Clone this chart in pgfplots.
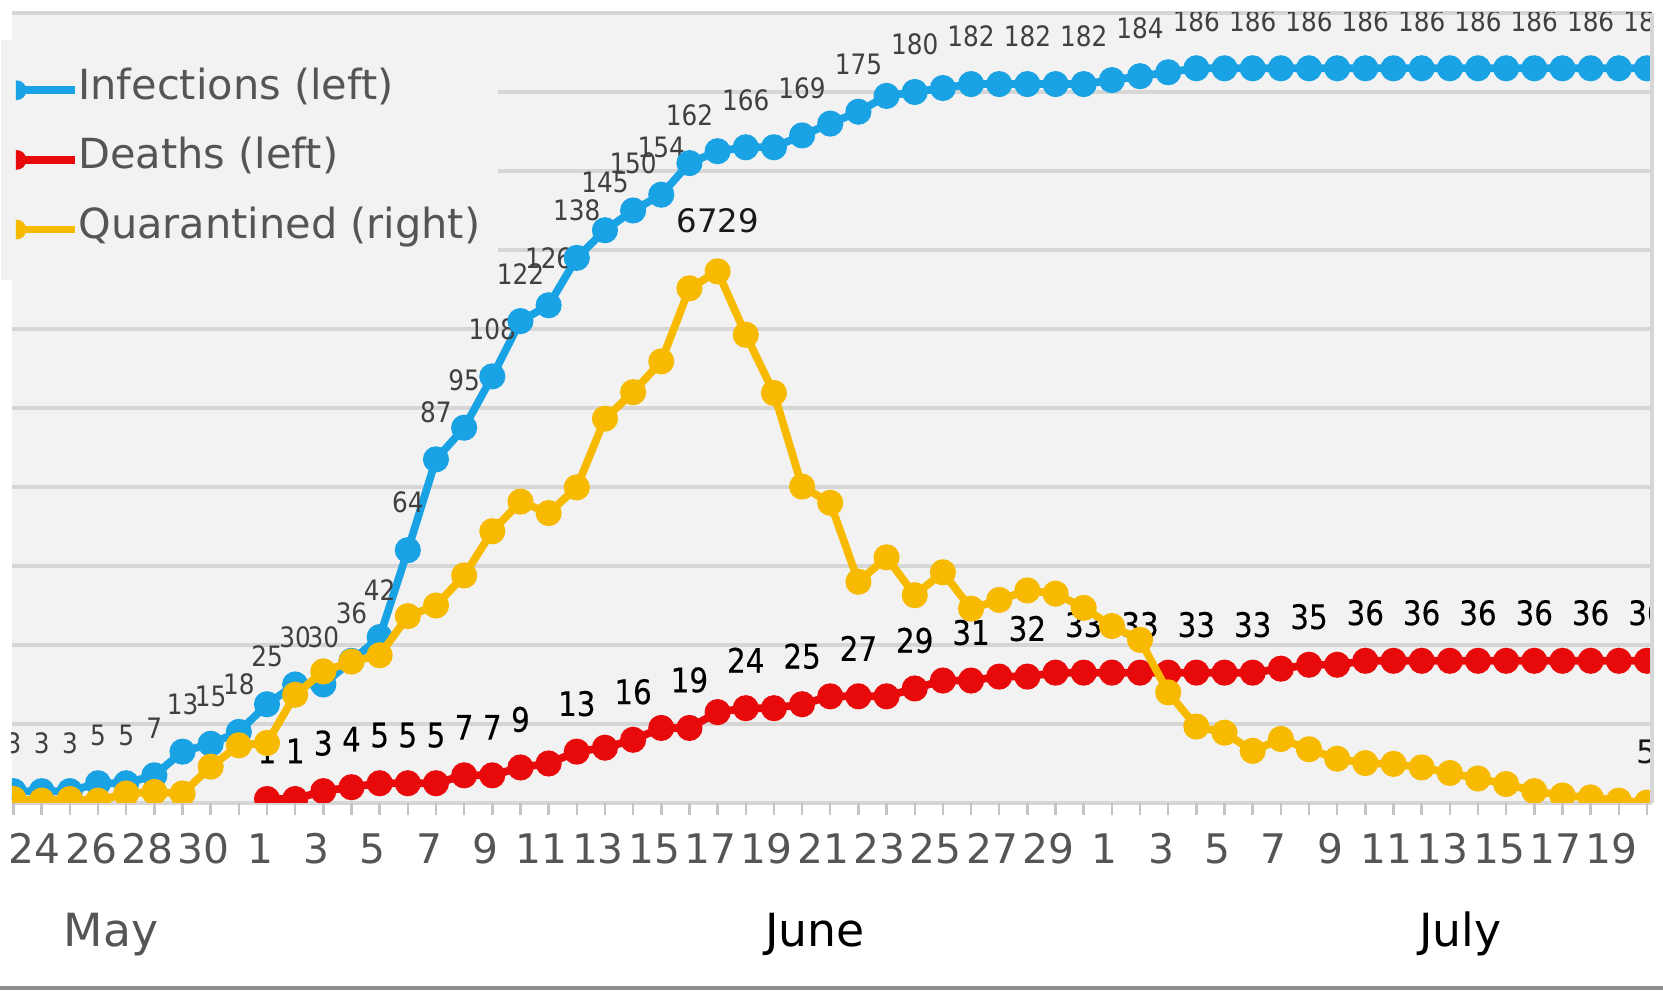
\documentclass[border=0pt]{standalone}
\usepackage{pgfplots}
\pgfplotsset{compat=1.18}
\usepackage{pgfplotstable}
\usepackage{fontspec}
\setmainfont{DejaVu Sans}
\newfontfamily\blabfont[FakeStretch=0.88]{DejaVu Sans}
\newfontfamily\rlabfont[FakeStretch=0.87,FakeBold=0.3]{DejaVu Sans}
\definecolor{blueC}{RGB}{26,163,228}
\definecolor{redC}{RGB}{232,10,10}
\definecolor{yelC}{RGB}{248,186,0}
\definecolor{plotbg}{RGB}{242,242,242}
\definecolor{gridC}{RGB}{214,214,214}
\definecolor{tickC}{RGB}{196,196,196}
\definecolor{txtC}{RGB}{85,85,85}
\definecolor{blabC}{RGB}{64,64,64}
\definecolor{lineC}{RGB}{140,140,140}

\pgfplotstableread[col sep=comma]{
d,v,lab
-9,3,3
-8,3,3
-7,3,3
-6,5,5
-5,5,5
-4,7,7
-3,13,13
-2,15,15
-1,18,18
0,25,25
1,30,30
2,30,30
3,36,36
4,42,42
5,64,64
6,87,87
7,95,95
8,108,108
9,122,122
10,126,126
11,138,138
12,145,145
13,150,150
14,154,154
15,162,162
16,165,
17,166,166
18,166,
19,169,169
20,172,
21,175,175
22,179,
23,180,180
24,181,
25,182,182
26,182,
27,182,182
28,182,
29,182,182
30,183,
31,184,184
32,185,
33,186,186
34,186,
35,186,186
36,186,
37,186,186
38,186,
39,186,186
40,186,
41,186,186
42,186,
43,186,186
44,186,
45,186,186
46,186,
47,186,186
48,186,
49,186,186
}\inftab

\pgfplotstableread[col sep=comma]{
d,v,lab
0,1,1
1,1,1
2,3,3
3,4,4
4,5,5
5,5,5
6,5,5
7,7,7
8,7,7
9,9,9
10,10,
11,13,13
12,14,
13,16,16
14,19,
15,19,19
16,23,
17,24,24
18,24,
19,25,25
20,27,
21,27,27
22,27,
23,29,29
24,31,
25,31,31
26,32,
27,32,32
28,33,
29,33,33
30,33,
31,33,33
32,33,
33,33,33
34,33,
35,33,33
36,34,
37,35,35
38,35,
39,36,36
40,36,
41,36,36
42,36,
43,36,36
44,36,
45,36,36
46,36,
47,36,36
48,36,
49,36,36
}\deatab

\pgfplotstableread[col sep=comma]{
d,v,lab
-9,50,
-8,30,
-7,50,
-6,30,
-5,120,
-4,140,
-3,120,
-2,460,
-1,730,
0,760,
1,1370,
2,1665,
3,1790,
4,1870,
5,2365,
6,2500,
7,2880,
8,3440,
9,3815,
10,3670,
11,3995,
12,4865,
13,5200,
14,5590,
15,6515,
16,6729,6729
17,5927,
18,5190,
19,4005,
20,3800,
21,2800,
22,3110,
23,2630,
24,2920,
25,2460,
26,2570,
27,2690,
28,2650,
29,2470,
30,2240,
31,2065,
32,1400,
33,967,
34,890,
35,660,
36,810,
37,680,
38,560,
39,505,
40,495,
41,450,
42,380,
43,310,
44,240,
45,150,
46,95,
47,70,
48,30,
49,5,5
}\quatab

\begin{document}
\begin{tikzpicture}
\begin{axis}[
  scale only axis, width=164mm, height=79mm,
  xmin=-9.055, xmax=49.18, ymin=0, ymax=200,
  axis background/.style={fill=plotbg},
  axis line style={draw=none},
  ytick={0,20,...,200}, ymajorticks=false, ymajorgrids,
  major grid style={gridC, line width=0.9pt},
  xtick={-8,-6,...,48},
  minor xtick={-9,-7,...,49},
  xtick pos=left, tick align=outside,
  major tick length=1.2mm, minor tick length=1.2mm,
  xtick style={tickC, line width=0.7pt},
  minor x tick style={tickC, line width=0.7pt},
  xticklabels={24,26,28,30,1,3,5,7,9,11,13,15,17,19,21,23,25,27,29,1,3,5,7,9,11,13,15,17,19},
  xticklabel style={font=\fontsize{11.6}{13}\selectfont, text=txtC, anchor=base, yshift=-4.9mm, xshift=-0.7mm},
  clip marker paths=true,
]
\coordinate (bbsw) at (rel axis cs:0,0);
\coordinate (bbse) at (rel axis cs:1,0);
\coordinate (bbne) at (rel axis cs:1,1);
\coordinate (mayC) at (axis cs:-5.54,0);
\coordinate (junC) at (axis cs:19.46,0);
\coordinate (julC) at (axis cs:42.37,0);
\addplot[blueC, line width=2.2pt, mark=*, mark size=2.6pt,
  point meta=explicit symbolic, nodes near coords={\pgfplotspointmeta},
  every node near coord/.append style={font=\blabfont\fontsize{8}{9}\selectfont, text=blabC, anchor=center, yshift=4.75mm, inner sep=0pt}]
  table[x=d, y=v, meta=lab] {\inftab};
\addplot[redC, line width=2.2pt, mark=*, mark size=2.6pt,
  point meta=explicit symbolic, nodes near coords={\pgfplotspointmeta},
  every node near coord/.append style={font=\rlabfont\fontsize{9.6}{11}\selectfont, text=black, anchor=center, yshift=4.8mm, inner sep=0pt}]
  table[x=d, y=v, meta=lab] {\deatab};
\end{axis}
\begin{axis}[
  scale only axis, width=164mm, height=79mm,
  xmin=-9.055, xmax=49.18, ymin=0, ymax=10000,
  hide axis,
  clip marker paths=true,
  legend cell align=left,
  legend style={at={(0,1)}, anchor=north west, xshift=-1.2mm, yshift=-2.6mm,
    fill=plotbg, draw=none, inner xsep=1.2mm, inner ysep=3.3mm, row sep=3.45mm,
    font=\fontsize{11.8}{14}\selectfont,
    nodes={inner sep=0pt, text=txtC, text height=0.75em, text depth=0.25em},
    cells={anchor=west}},
  legend image code/.code={
    \draw[#1, line width=2.2pt] (0mm,0mm) -- (5.8mm,0mm);
    \fill[#1] (0mm,-2.6pt) arc[start angle=-90, end angle=90, radius=2.6pt] -- cycle;
    \path (6.0mm,0mm);
  },
]
\addlegendimage{blueC}
\addlegendentry{Infections (left)}
\addlegendimage{redC}
\addlegendentry{Deaths (left)}
\addlegendimage{yelC}
\addlegendentry{Quarantined (right)\kern0.6mm\null}
\addplot[yelC, line width=2.2pt, mark=*, mark size=2.6pt, forget plot,
  point meta=explicit symbolic, nodes near coords={\pgfplotspointmeta},
  every node near coord/.append style={font=\fontsize{9.2}{10}\selectfont, text=black!90, anchor=center, yshift=5.1mm, inner sep=0pt}]
  table[x=d, y=v, meta=lab] {\quatab};
\end{axis}
\draw[gridC, line width=0.9pt] (bbse) -- (bbne);
\node[anchor=base, font=\fontsize{13}{15}\selectfont, text=txtC] at ([yshift=-14.4mm]mayC) {May};
\node[anchor=base, font=\fontsize{13}{15}\selectfont, text=black] at ([yshift=-14.4mm]junC) {June};
\node[anchor=base, font=\fontsize{13}{15}\selectfont, text=black] at ([yshift=-14.4mm]julC) {July};
\draw[lineC, line width=1pt] ([xshift=-5mm,yshift=-18.5mm]bbsw) -- ([xshift=5mm,yshift=-18.5mm]bbse);
\pgfresetboundingbox
\path[use as bounding box] ([xshift=-1.2mm,yshift=-18.8mm]bbsw) rectangle ([xshift=1.1mm,yshift=1.3mm]bbne);
\end{tikzpicture}
\end{document}
